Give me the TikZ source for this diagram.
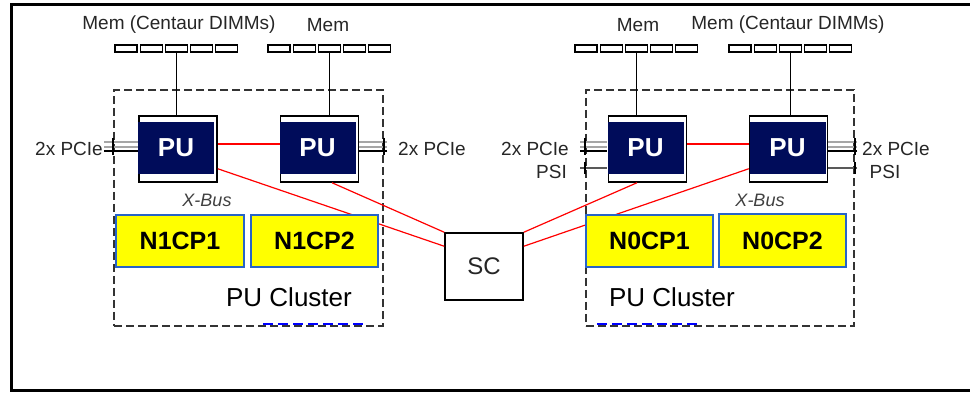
\documentclass[tikz,border=0pt]{standalone}
\usepackage{fontspec}
\setmainfont{Liberation Sans}
\usetikzlibrary{calc}
\definecolor{puNavy}{RGB}{0,12,90}
\definecolor{cpBlue}{RGB}{40,100,200}
\definecolor{cpYellow}{RGB}{255,255,0}
\tikzset{
  lbl/.style={font=\fontsize{19}{21}\selectfont, text=black!85, inner sep=0pt},
  dimm/.style={draw, line width=1.3pt, fill=white, minimum width=22pt, minimum height=7pt, inner sep=0pt},
  puo/.style={draw, line width=1.5pt, fill=white, minimum width=78pt, minimum height=66pt, inner sep=0pt},
  pun/.style={fill=puNavy, text=white, font=\bfseries\fontsize{26}{28}\selectfont, minimum width=76pt, minimum height=52pt, inner sep=0pt},
  cpbox/.style={draw=cpBlue, fill=cpYellow, line width=1.2pt, font=\bfseries\fontsize{25}{27}\selectfont, minimum height=52pt, inner sep=0pt},
  cluster/.style={draw=black!80, dash pattern=on 8pt off 4pt, line width=1.8pt, inner sep=0pt},
  redl/.style={red, line width=1.2pt},
  memline/.style={black, line width=1.5pt},
  gline/.style={gray!70, line width=1.7pt},
  bline/.style={black, line width=1.1pt},
  tickl/.style={black, line width=1.5pt},
  psil/.style={black!65, line width=1.7pt},
  xbus/.style={font=\itshape\fontsize{18}{20}\selectfont, text=black!75, inner sep=0pt},
  clus/.style={font=\fontsize{26}{28}\selectfont, inner sep=0pt},
  fragblue/.style={blue, line width=2.5pt, dash pattern=on 10pt off 5pt},
}
\newcommand\pcieline[3]{%
  \draw[gline] ($(#1)+(0,-5)$) -- ($(#1 -| #2)+(0,-5)$);
  \draw[gline] (#1) -- (#1 -| #2);
  \draw[bline] ($(#1)+(0,4)$) -- ($(#1 -| #2)+(0,4)$);
  \draw[tickl] ($(#1 -| #3)+(0,-9)$) -- ($(#1 -| #3)+(0,8)$);
}
\begin{document}
\begin{tikzpicture}[x=1pt, y=-1pt]
\useasboundingbox (0,0) rectangle (970,393);
\fill[white] (0,0) rectangle (970,393);
% outer frame
\draw[line width=3pt] (975,5) -- (11,5) -- (11,390) -- (975,390);

% cluster boxes
\node[cluster, minimum width=269pt, minimum height=236pt] (cl1) at (248.5,208) {};
\node[cluster, minimum width=268pt, minimum height=236pt] (cl2) at (720,208) {};
\draw[fragblue] (263,324) -- (363,324);
\draw[fragblue] (597,324) -- (698,324);

% memory labels
\node[lbl] (m1) at (179,25) {Mem (Centaur DIMMs)};
\node[lbl] (m2) at (328,25) {Mem};
\node[lbl] (m3) at (638,25) {Mem};
\node[lbl] (m4) at (788,25) {Mem (Centaur DIMMs)};

% DIMM rows
\foreach \i in {0,...,4} {
  \node[dimm] (dL\i) at ({126+\i*25.2},48.5) {};
  \node[dimm] (dM\i) at ({279+\i*25.2},48.5) {};
  \node[dimm] (dN\i) at ({586+\i*25.2},48.5) {};
  \node[dimm] (dO\i) at ({740+\i*25.2},48.5) {};
}

% PUs
\node[puo] (pu1o) at (178,149) {};
\node[puo] (pu2o) at (319.5,149) {};
\node[puo] (pu3o) at (647.5,149) {};
\node[puo] (pu4o) at (788.5,149) {};

\draw[memline] (dL2.south) -- (dL2.south |- pu1o.north);
\draw[memline] (dM2.south) -- (dM2.south |- pu2o.north);
\draw[memline] (dN2.south) -- (dN2.south |- pu3o.north);
\draw[memline] (dO2.south) -- (dO2.south |- pu4o.north);

\node[pun] (pu1) at (176,148) {PU};
\node[pun] (pu2) at (317.5,148) {PU};
\node[pun] (pu3) at (645.5,148) {PU};
\node[pun] (pu4) at (787.5,148) {PU};

% PCIe / PSI
\node[lbl] (pl1) at (69,149) {2x PCIe};
\node[lbl] (pl2) at (432,149) {2x PCIe};
\node[lbl] (pl3) at (535,149) {2x PCIe};
\node[lbl, anchor=east] (ps3) at (567,172) {PSI};
\node[lbl] (pl4) at (896,149) {2x PCIe};
\node[lbl] (ps4) at (885,172) {PSI};

\coordinate (c1) at (104,147);
\coordinate (c2) at (387,147);
\coordinate (c3) at (580,147);
\coordinate (c4) at (857,147);
\coordinate (s3) at (580,168);
\coordinate (s4) at (857,168);
\pcieline{c1}{pu1.west}{cl1.west}
\pcieline{c2}{pu2o.east}{cl1.east}
\pcieline{c3}{pu3.west}{cl2.west}
\pcieline{c4}{pu4o.east}{cl2.east}
\draw[psil] (s3) -- (s3 -| pu3.west);
\draw[tickl] ($(s3 -| cl2.west)+(0,-6)$) -- ($(s3 -| cl2.west)+(0,6)$);
\draw[psil] (s4) -- (s4 -| pu4o.east);
\draw[tickl] ($(s4 -| cl2.east)+(0,-6)$) -- ($(s4 -| cl2.east)+(0,6)$);

% SC
\node[draw, line width=1.5pt, fill=white, minimum width=78pt, minimum height=67pt, inner sep=0pt,
      font=\fontsize{24}{26}\selectfont, text=black!85] (sc) at (484,266.5) {SC};

% X-Bus links
\draw[redl] ([yshift=5pt]pu1o.east) -- ([yshift=5pt]pu2o.west);
\draw[redl] ([yshift=5pt]pu3o.east) -- ([yshift=5pt]pu4o.west);
\draw[redl] ([yshift=14pt]pu1o.south east) -- ([yshift=-14pt]sc.north west);
\draw[redl] ([xshift=12.5pt]pu2o.south) -- (sc.north west);
\draw[redl] ([xshift=-10.5pt]pu3o.south) -- (sc.north east);
\draw[redl] ([yshift=14pt]pu4o.south west) -- ([yshift=-14pt]sc.north east);

% X-Bus labels
\node[xbus] (xb1) at (207,200) {X-Bus};
\node[xbus] (xb2) at (760,200) {X-Bus};

% CP boxes
\node[cpbox, minimum width=128pt] (n1cp1) at (180,241) {N1CP1};
\node[cpbox, minimum width=127pt] (n1cp2) at (314.5,241) {N1CP2};
\node[cpbox, minimum width=127pt] (n0cp1) at (649.5,241) {N0CP1};
\node[cpbox, minimum width=127pt, minimum height=53pt] (n0cp2) at (782.5,240.5) {N0CP2};

% cluster labels
\node[clus] (pc1) at (289,297) {PU Cluster};
\node[clus] (pc2) at (672,297) {PU Cluster};
\end{tikzpicture}
\end{document}
